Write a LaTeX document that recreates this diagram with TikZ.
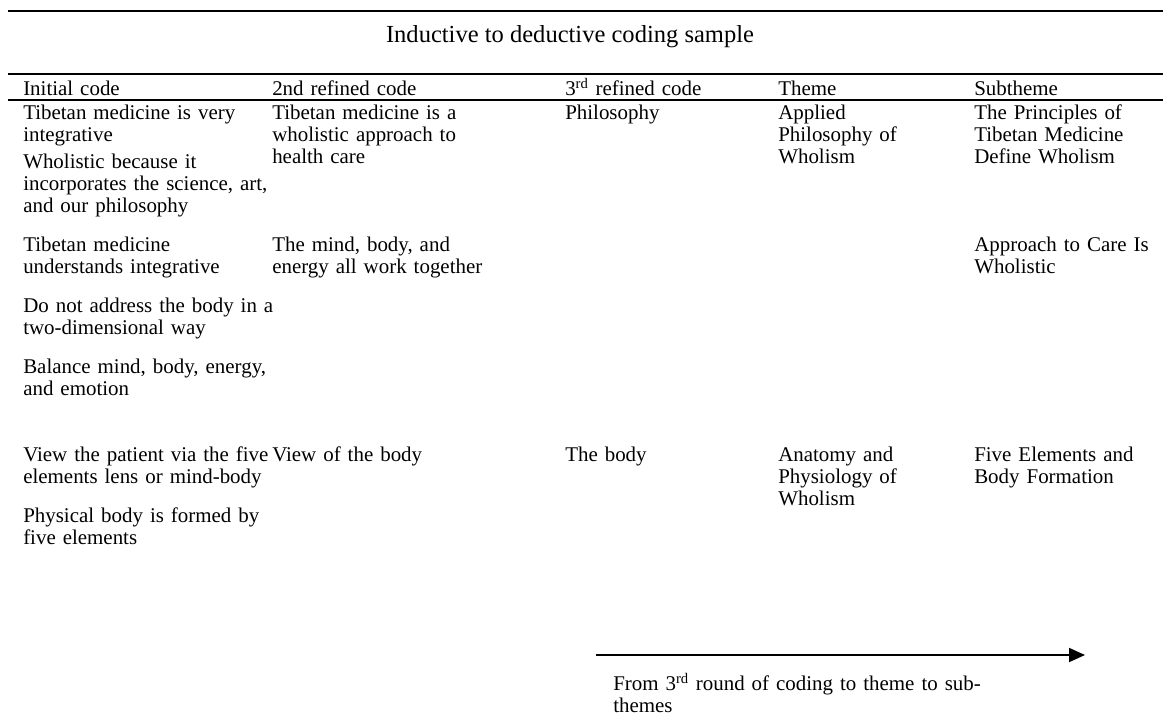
\documentclass[tikz,border=0pt]{standalone}
\usepackage{fontspec}
\setmainfont{Liberation Serif}
\usetikzlibrary{arrows.meta}
\begin{document}
\begin{tikzpicture}[x=0.75pt,y=0.75pt,
  rule/.style={line width=1.4pt},
  cell/.style={anchor=base west,inner sep=0pt,align=left,text width=250pt,
    font=\fontsize{15.7}{16.5}\selectfont},
  head/.style={cell},
  wide/.style={cell,text width=420pt},
  ttl/.style={anchor=base,inner sep=0pt,font=\fontsize{18.4}{20}\selectfont}]
\useasboundingbox (0,0) rectangle (1163,-717);

% table rules
\coordinate (r1l) at (8,-11);  \coordinate (r1r) at (1163,-11);
\coordinate (r2l) at (8,-74);  \coordinate (r2r) at (1163,-74);
\coordinate (r3l) at (8,-100); \coordinate (r3r) at (1163,-100);
\draw[rule] (r1l) -- (r1r);
\draw[rule] (r2l) -- (r2r);
\draw[rule] (r3l) -- (r3r);

% title
\node[ttl] (title) at (570,-43) {Inductive to deductive coding sample};

% column headings
\node[head] (h1) at (23,-95)  {Initial code};
\node[head] (h2) at (272,-95) {2nd refined code};
\node[head] (h3) at (565,-95) {3\textsuperscript{rd} refined code};
\node[head] (h4) at (778,-95) {Theme};
\node[head] (h5) at (974,-95) {Subtheme};

% initial codes
\node[cell] (a1) at (23,-119) {Tibetan medicine is very\\integrative};
\node[cell] (a2) at (23,-168) {Wholistic because it\\incorporates the science, art,\\and our philosophy};
\node[cell] (a3) at (23,-251) {Tibetan medicine\\understands integrative};
\node[cell] (a4) at (23,-312) {Do not address the body in a\\two-dimensional way};
\node[cell] (a5) at (23,-373) {Balance mind, body, energy,\\and emotion};
\node[cell] (a6) at (23,-461) {View the patient via the five\\elements lens or mind-body};
\node[cell] (a7) at (23,-522) {Physical body is formed by\\five elements};

% second refined codes
\node[cell] (b1) at (272,-119) {Tibetan medicine is a\\wholistic approach to\\health care};
\node[cell] (b2) at (272,-251) {The mind, body, and\\energy all work together};
\node[cell] (b3) at (272,-461) {View of the body};

% third refined codes
\node[cell] (c1) at (565,-119) {Philosophy};
\node[cell] (c2) at (565,-461) {The body};

% themes
\node[cell] (d1) at (778,-119) {Applied\\Philosophy of\\Wholism};
\node[cell] (d2) at (778,-461) {Anatomy and\\Physiology of\\Wholism};

% subthemes
\node[cell] (e1) at (974,-119) {The Principles of\\Tibetan Medicine\\Define Wholism};
\node[cell] (e2) at (974,-251) {Approach to Care Is\\Wholistic};
\node[cell] (e3) at (974,-461) {Five Elements and\\Body Formation};

% direction of coding
\coordinate (flowS) at (596,-655);
\coordinate (flowE) at (1085,-655);
\draw[line width=1.4pt,-{Triangle[length=12pt,width=10.5pt]}] (flowS) -- (flowE);
\node[wide] (note) at (613,-690) {From 3\textsuperscript{rd} round of coding to theme to sub-\\themes};
\end{tikzpicture}
\end{document}
